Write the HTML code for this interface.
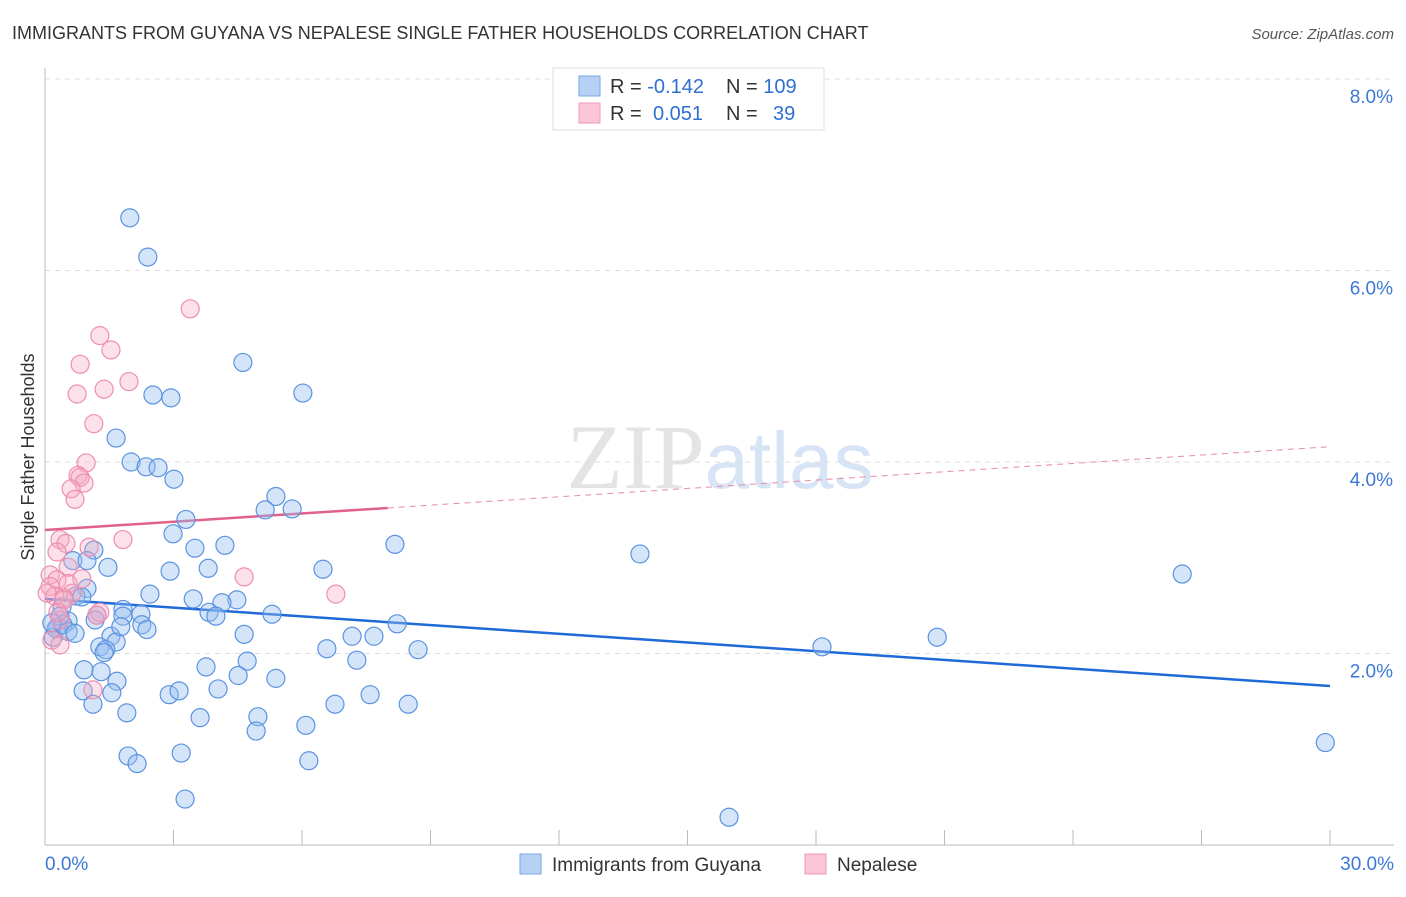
<!DOCTYPE html>
<html><head><meta charset="utf-8"><style>
body{margin:0;background:#fff;font-family:"Liberation Sans",sans-serif;}
svg text{font-family:"Liberation Sans",sans-serif;}
</style></head><body>
<svg id="chart" width="1406" height="892" viewBox="0 0 1406 892" xmlns="http://www.w3.org/2000/svg">
<text x="12" y="39" font-size="18" fill="#333">IMMIGRANTS FROM GUYANA VS NEPALESE SINGLE FATHER HOUSEHOLDS CORRELATION CHART</text>
<text x="1394" y="39" font-size="15" fill="#555" font-style="italic" text-anchor="end">Source: ZipAtlas.com</text>
<text x="720" y="488" font-size="92" text-anchor="middle" fill="#e4e4e4"><tspan font-family="Liberation Serif">ZIP</tspan><tspan fill="#d6e4f5" font-size="80">atlas</tspan></text>
<g id="grid"></g><g id="axes"></g><g id="trends"></g><g id="points"></g>
<text transform="translate(34,457) rotate(-90)" font-size="18" fill="#333" text-anchor="middle">Single Father Households</text>
<g>
<rect x="553" y="68" width="271" height="62" fill="#fff" stroke="#ddd"/>
<rect x="579" y="76" width="21" height="20" fill="#b7d1f5" stroke="#7aa6e6"/>
<rect x="579" y="103" width="21" height="20" fill="#fbc7d7" stroke="#ee9ab4"/>
<text x="610" y="93" font-size="20" fill="#333">R = <tspan fill="#2f6fd4">-0.142</tspan></text>
<text x="726" y="93" font-size="20" fill="#333">N = <tspan fill="#2f6fd4">109</tspan></text>
<text x="610" y="120" font-size="20" fill="#333">R = <tspan fill="#2f6fd4" x="653">0.051</tspan></text>
<text x="726" y="120" font-size="20" fill="#333">N = <tspan fill="#2f6fd4" x="773">39</tspan></text>
</g>
<g>
<rect x="520" y="854" width="21" height="20" fill="#b7d1f5" stroke="#7aa6e6"/>
<text x="552" y="871" font-size="19" fill="#333">Immigrants from Guyana</text>
<rect x="805" y="854" width="21" height="20" fill="#fbc7d7" stroke="#ee9ab4"/>
<text x="837" y="871" font-size="19" fill="#333">Nepalese</text>
</g>
</svg>
<script>
const yTicks=[2,4,6,8];
const yTickLabels=["2.0%","4.0%","6.0%","8.0%"];
const xTickLabels=["0.0%","30.0%"];
const guyanaX=[1.98,2.40,4.62,6.02,2.52,2.94,1.66,2.01,2.36,2.64,3.01,5.39,5.14,5.77,3.29,2.99,8.17,13.89,26.55,1.14,0.65,0.98,3.50,4.20,1.47,2.92,3.81,6.49,0.98,2.45,0.72,0.86,3.46,4.48,4.13,3.83,3.99,5.30,1.82,1.82,2.24,2.26,1.21,0.40,0.54,0.30,0.19,0.26,0.42,0.54,0.70,1.54,1.66,1.77,2.38,4.65,7.17,7.68,8.22,6.58,8.71,18.14,20.83,1.28,1.42,1.38,4.72,7.28,3.76,0.91,1.31,1.68,4.51,5.39,0.89,1.56,2.90,3.13,4.04,7.59,8.48,1.12,6.77,1.91,3.62,4.97,6.09,4.93,1.94,2.15,3.18,6.16,3.27,15.97,29.89,1.17,0.35,0.16];
const guyanaY=[6.55,6.14,5.04,4.72,4.70,4.67,4.25,4.00,3.95,3.94,3.82,3.64,3.50,3.51,3.40,3.25,3.14,3.04,2.83,3.08,2.97,2.97,3.10,3.13,2.90,2.86,2.89,2.88,2.68,2.62,2.60,2.59,2.57,2.56,2.53,2.43,2.39,2.41,2.46,2.39,2.41,2.30,2.40,2.49,2.34,2.28,2.17,2.26,2.30,2.23,2.21,2.18,2.12,2.28,2.25,2.20,2.18,2.18,2.31,2.05,2.04,2.07,2.17,2.07,2.04,2.01,1.92,1.93,1.86,1.83,1.81,1.71,1.77,1.74,1.61,1.59,1.57,1.61,1.63,1.57,1.47,1.47,1.47,1.38,1.33,1.34,1.25,1.19,0.93,0.85,0.96,0.88,0.48,0.29,1.07,2.35,2.39,2.32];
const nepalX=[3.39,1.28,1.54,0.82,0.75,1.38,1.96,1.14,0.96,0.77,0.82,0.91,0.61,0.70,1.82,0.35,0.49,1.03,0.28,0.54,0.86,0.12,0.28,4.65,0.54,0.12,6.79,0.23,0.63,0.44,0.05,1.28,1.21,0.35,0.16,0.35,1.12,0.44,0.30];
const nepalY=[5.60,5.32,5.17,5.02,4.71,4.76,4.84,4.40,3.99,3.86,3.84,3.78,3.72,3.61,3.19,3.19,3.15,3.11,3.06,2.90,2.78,2.82,2.77,2.80,2.73,2.70,2.62,2.60,2.63,2.58,2.63,2.43,2.40,2.35,2.14,2.09,1.62,2.56,2.43];
const guyanaTrend=[2.57,1.66];
const nepalTrend=[3.29,3.52,4.16];
const X0=45,X1=1330,Y0=845,PPY=95.75;
const sx=v=>X0+(X1-X0)*v/30, sy=v=>Y0-v*PPY;
const NS="http://www.w3.org/2000/svg";
function mk(tag,attrs,parent){const e=document.createElementNS(NS,tag);for(const k in attrs)e.setAttribute(k,attrs[k]);document.getElementById(parent).appendChild(e);return e;}
yTicks.forEach((t,i)=>{
 const g=mk('line',{x1:X0,x2:1394,y1:sy(t),y2:sy(t),stroke:'#ddd','stroke-dasharray':'5,5'},'grid');
 
 
 const l=mk('text',{x:1393,y:sy(t)+24,'font-size':19,fill:'#3d78d6','text-anchor':'end'},'grid');
 l.textContent=yTickLabels[i];
 
 
});
const ax=mk('line',{x1:X0,x2:X0,y1:68,y2:Y0,stroke:'#bbb'},'axes');


const bx=mk('line',{x1:X0,x2:1394,y1:Y0,y2:Y0,stroke:'#bbb'},'axes');


for(let i=0;i<=10;i++){
 const t=mk('line',{x1:sx(i*3),x2:sx(i*3),y1:830,y2:Y0,stroke:'#bbb'},'axes');
 
 
}
const xl0=mk('text',{x:45,y:870,'font-size':19,fill:'#3d78d6'},'axes');xl0.textContent=xTickLabels[0];


const xl1=mk('text',{x:1394,y:870,'font-size':19,fill:'#3d78d6','text-anchor':'end'},'axes');xl1.textContent=xTickLabels[1];


guyanaX.forEach((x,i)=>{
 const c=mk('circle',{cx:sx(x),cy:sy(guyanaY[i]),r:9,fill:'rgba(150,190,240,0.4)',stroke:'#5b93e0','stroke-width':1.2},'points');
 
 
});
nepalX.forEach((x,i)=>{
 const c=mk('circle',{cx:sx(x),cy:sy(nepalY[i]),r:9,fill:'rgba(246,170,195,0.35)',stroke:'#ee8fae','stroke-width':1.2},'points');
 
 
});
const bt=mk('line',{x1:sx(0),y1:sy(guyanaTrend[0]),x2:sx(30),y2:sy(guyanaTrend[1]),stroke:'#1f6ad8','stroke-width':2.5},'trends');


const pt=mk('line',{x1:sx(0),y1:sy(nepalTrend[0]),x2:sx(8),y2:sy(nepalTrend[1]),stroke:'#e0628c','stroke-width':2.5},'trends');


const pd=mk('line',{x1:sx(8),y1:sy(nepalTrend[1]),x2:sx(30),y2:sy(nepalTrend[2]),stroke:'#e88aa8','stroke-width':1,'stroke-dasharray':'6,5'},'trends');


</script>
</body></html>
